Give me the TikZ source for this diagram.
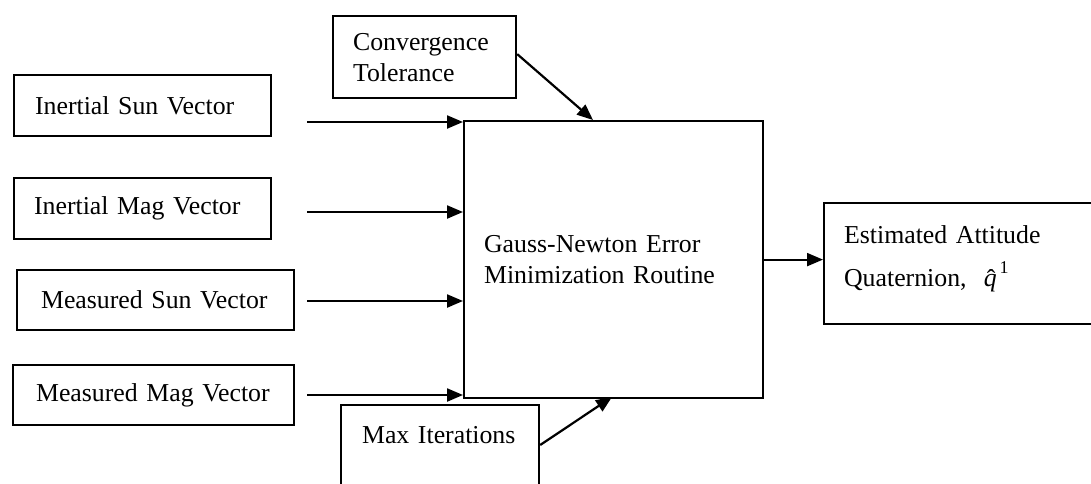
\documentclass[tikz,border=0pt]{standalone}
\usepackage{fontspec}
\setmainfont{Liberation Serif}
\usetikzlibrary{arrows.meta}
\begin{document}
\begin{tikzpicture}[x=1pt,y=-1pt,
  box/.style={draw, line width=2.2pt, rectangle, anchor=north west, inner ysep=0pt,
    align=left, font=\fontsize{25.8}{31}\selectfont},
  conn/.style={line width=2.2pt, -{Triangle[length=16pt,width=13pt]}}]
\clip (0,0) rectangle (1091,483);
\fill[white] (0,0) rectangle (1091,483);

\node[box, minimum width=183pt, minimum height=82pt, inner xsep=20pt, text width=143pt] (conv) at (332,15) {Convergence\\Tolerance};

\node[box, minimum width=257pt, minimum height=61pt, inner xsep=21pt, text width=215pt] (isun) at (13,74) {Inertial Sun Vector};
\node[box, minimum width=257pt, minimum height=61pt, inner xsep=20pt, text width=217pt] (imag) at (13,177) {Inertial Mag Vector};
\node[box, minimum width=277pt, minimum height=60pt, inner xsep=24pt, text width=229pt] (msun) at (16,269) {Measured Sun Vector};
\node[box, minimum width=281pt, minimum height=60pt, inner xsep=23pt, text width=235pt] (mmag) at (12,364) {Measured Mag Vector};

\node[box, minimum width=299pt, minimum height=277pt, inner xsep=20pt, text width=259pt] (main) at (463,120) {Gauss-Newton Error\\Minimization Routine};

\node[box, minimum width=198pt, inner xsep=21pt, inner ysep=20pt, text width=156pt, text height=18pt, text depth=60pt] (maxit) at (340,404) {Max Iterations};

\node[box, minimum width=290pt, minimum height=121pt, inner xsep=20pt, text width=250pt] (est) at (823,202) {Estimated Attitude\\[12pt]Quaternion,\ \ \rlap{\kern3pt\raisebox{-1pt}{\char"02C6}}\textit{q}\kern3pt\raisebox{13pt}{\fontsize{18}{18}\selectfont 1}\\[-15pt]\mbox{}};

\coordinate (s1) at (307,122);
\coordinate (s2) at (307,212);
\coordinate (s3) at (307,301);
\coordinate (s4) at (307,395);
\draw[conn] (s1) -- (main.west |- s1);
\draw[conn] (s2) -- (main.west |- s2);
\draw[conn] (s3) -- (main.west |- s3);
\draw[conn] (s4) -- (main.west |- s4);

\coordinate (cin) at (593,120);
\draw[conn] ([yshift=3pt]conv.east) -- (cin);

\coordinate (min) at (612,397);
\draw[conn] ([yshift=-41pt]maxit.north east) -- (min);

\draw[conn] (main.east) -- (est.west |- main.east);
\end{tikzpicture}
\end{document}
